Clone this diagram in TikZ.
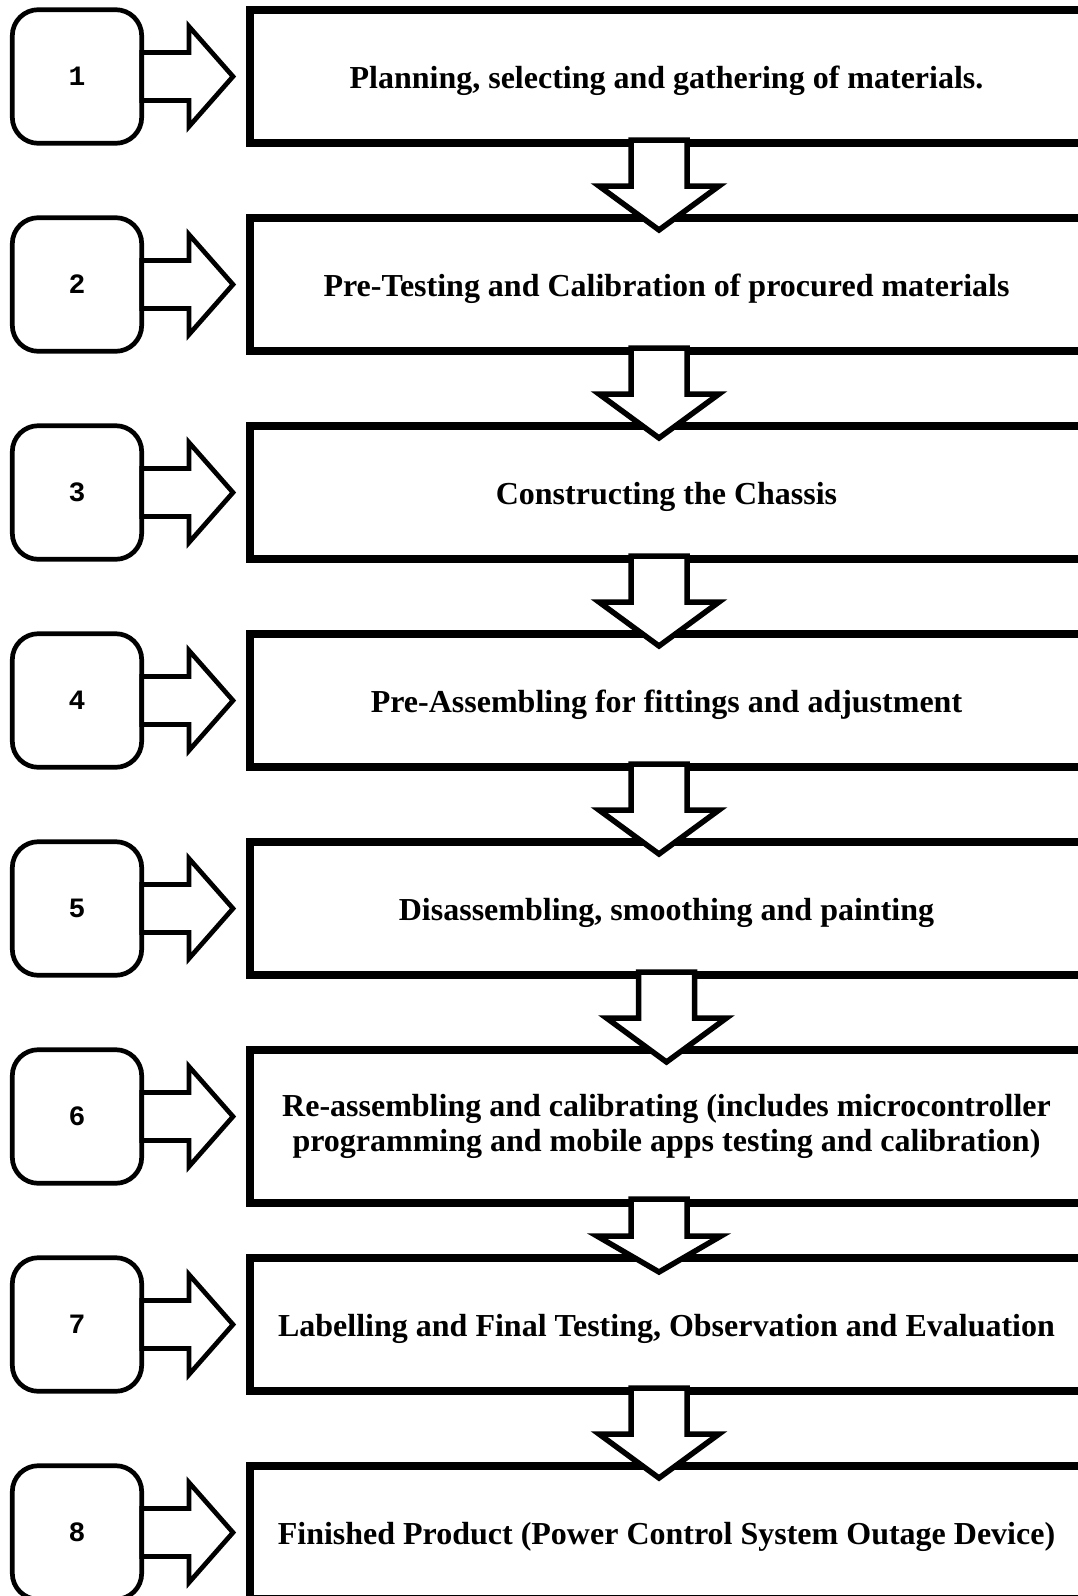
\documentclass[tikz,border=0pt]{standalone}
\usepackage{fontspec}
\setmainfont{Liberation Serif}
\newfontfamily\numfont{Liberation Mono}
\usetikzlibrary{calc}
\tikzset{
  numbox/.style={draw, line width=4.7pt, rounded corners=26pt, minimum width=129.4pt, minimum height=133.6pt, outer sep=0pt, font=\numfont\bfseries\fontsize{28}{30}\selectfont, inner sep=0pt},
  stepbox/.style={draw, line width=8pt, minimum width=833pt, minimum height=133pt, outer sep=0pt, align=center, inner sep=0pt, font=\bfseries\fontsize{32}{35.5}\selectfont},
  oneline/.style={text height=24pt, text depth=1pt},
  rarrow/.style={draw, fill=white, line width=4.7pt, line join=miter},
  darrow/.style={draw, fill=white, line width=5.5pt, line join=miter}
}
\begin{document}
\begin{tikzpicture}[x=1pt, y=-1pt]
\useasboundingbox (0,0) rectangle (1077,1596);
% number boxes
\foreach \i in {1,...,8}{
  \node[numbox] (n\i) at (77, {76.5+208*(\i-1)}) {\i};
}
% step boxes
\node[stepbox, oneline] (s1) at (666.5, 76.5) {Planning, selecting and gathering of materials.};
\node[stepbox, oneline] (s2) at (666.5, 284.5) {Pre-Testing and Calibration of procured materials};
\node[stepbox, oneline] (s3) at (666.5, 492.5) {Constructing the Chassis};
\node[stepbox, oneline] (s4) at (666.5, 700.5) {Pre-Assembling for fittings and adjustment};
\node[stepbox, oneline] (s5) at (666.5, 908.5) {Disassembling, smoothing and painting};
\node[stepbox, minimum height=153pt] (s6) at (666.5, 1126.5) {Re-assembling and calibrating (includes microcontroller\\programming and mobile apps testing and calibration)};
\node[stepbox, oneline] (s7) at (666.5, 1324.5) {Labelling and Final Testing, Observation and Evaluation};
\node[stepbox, oneline] (s8) at (666.5, 1532.5) {Finished Product (Power Control System Outage Device)};
% right block arrows
\foreach \i in {1,...,8}{
  \draw[rarrow] ([shift={(0,-24)}]n\i.east) -- ++(47.3,0) -- ++(0,-26) -- ++(44,50) -- ++(-44,50) -- ++(0,-26) -- ++(-47.3,0) -- cycle;
}
% down block arrows
\foreach \a/\b/\dx in {1/2/-7.5, 2/3/-7.5, 3/4/-7.5, 4/5/-7.5, 5/6/0, 7/8/-7.5}{
  \draw[darrow] ([shift={(\dx-28,-3)}]s\a.south) -- ++(0,46) -- ++(-32,0) -- ++(60,44) -- ++(60,-44) -- ++(-32,0) -- ++(0,-46) -- cycle;
}
\draw[darrow] ([shift={(-35.5,-4)}]s6.south) -- ++(0,37) -- ++(-34,0) -- ++(62,36) -- ++(62,-36) -- ++(-34,0) -- ++(0,-37) -- cycle;
\end{tikzpicture}
\end{document}
